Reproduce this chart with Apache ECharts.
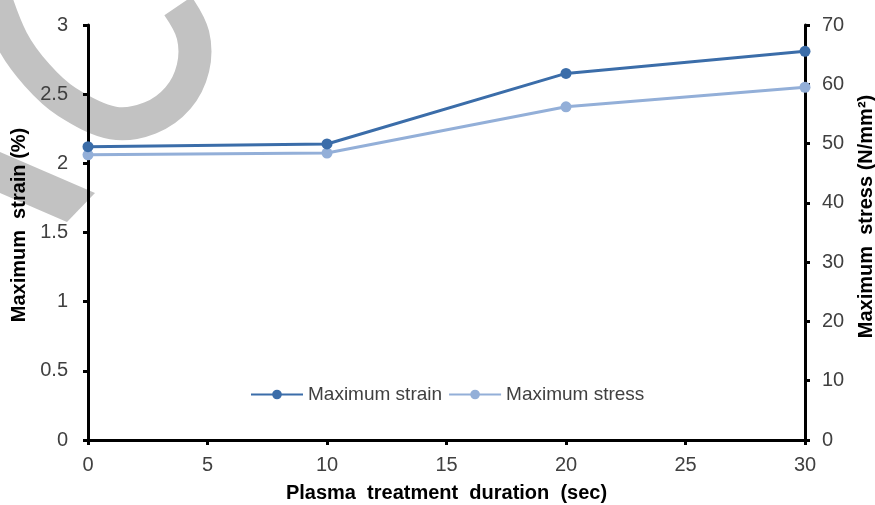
<!DOCTYPE html>
<html>
<head>
<meta charset="utf-8">
<script src="https://cdn.jsdelivr.net/npm/echarts@6/dist/echarts.min.js"></script>
<style>
html,body{margin:0;padding:0;background:#fff;overflow:hidden;}
#c{width:875px;height:505px;}
</style>
</head>
<body>
<div id="c"></div>
<script>
const durations = [0, 10, 20, 30];
const strainValues = [2.12, 2.14, 2.65, 2.81];
const stressValues = [48.1, 48.4, 56.2, 59.5];
const seriesNames = ['Maximum strain', 'Maximum stress'];
const xTicks = [0, 5, 10, 15, 20, 25, 30];
const leftTicks = [0, 0.5, 1, 1.5, 2, 2.5, 3];
const rightTicks = [0, 10, 20, 30, 40, 50, 60, 70];

const chart = echarts.init(document.getElementById('c'));
const font = 'Liberation Sans, Arial, sans-serif';
const axisLine = {show: true, lineStyle: {color: '#000', width: 3}};
const labelStyle = {color: '#404040', fontSize: 20, fontFamily: font};
const nameStyle = {color: '#000', fontSize: 20, fontWeight: 'bold', fontFamily: font};

chart.setOption({
  animation: false,
  graphic: [
    {type: 'polyline', z: -100, silent: true,
     shape: {points: [[-8,-12],[12,40],[37,75],[67,102],[113,123],[150,118],[178,98],[193,68],[193,35],[178,6]], smooth: 0.35},
     style: {stroke: '#c2c2c2', lineWidth: 33, fill: null, lineCap: 'butt', lineJoin: 'round'}},
    {type: 'polygon', z: -100, silent: true,
     shape: {points: [[0,152],[95,193],[67,222],[0,193]]},
     style: {fill: '#c2c2c2'}}
  ],
  grid: {left: 88, right: 70, top: 25, bottom: 65, containLabel: false, outerBoundsMode: 'none'},
  legend: {
    data: seriesNames,
    top: 380, left: 245,
    itemWidth: 52, itemHeight: 12, itemGap: 6,
    textStyle: {color: '#404040', fontSize: 19, fontFamily: font}
  },
  xAxis: {
    type: 'value', min: xTicks[0], max: xTicks[xTicks.length-1], interval: xTicks[1]-xTicks[0],
    name: 'Plasma  treatment  duration  (sec)', nameLocation: 'middle', nameGap: 43,
    nameTextStyle: nameStyle,
    axisLine: axisLine,
    axisTick: {show: true, inside: false, length: 5, lineStyle: {color: '#000', width: 3}},
    axisLabel: Object.assign({}, labelStyle, {margin: 15}),
    splitLine: {show: false}
  },
  yAxis: [
    {
      type: 'value', position: 'left', min: leftTicks[0], max: leftTicks[leftTicks.length-1], interval: leftTicks[1]-leftTicks[0],
      name: 'Maximum  strain (%)', nameLocation: 'middle', nameRotate: 90, nameGap: 56,
      nameTextStyle: Object.assign({}, nameStyle, {padding: [0, 0, 0, 15]}),
      axisLine: axisLine,
      axisTick: {show: true, length: 5, lineStyle: {color: '#000', width: 3}},
      axisLabel: Object.assign({}, labelStyle, {margin: 20}),
      splitLine: {show: false}
    },
    {
      type: 'value', position: 'right', min: rightTicks[0], max: rightTicks[rightTicks.length-1], interval: rightTicks[1]-rightTicks[0],
      name: 'Maximum  stress (N/mm²)', nameLocation: 'middle', nameRotate: 90, nameGap: 51,
      nameTextStyle: Object.assign({}, nameStyle, {padding: [0, 0, 0, 32]}),
      axisLine: axisLine,
      axisTick: {show: true, length: 5, lineStyle: {color: '#000', width: 3}},
      axisLabel: Object.assign({}, labelStyle, {margin: 17}),
      splitLine: {show: false}
    }
  ],
  series: [
    {
      name: seriesNames[0], type: 'line', yAxisIndex: 0,
      data: durations.map((d, i) => [d, strainValues[i]]),
      symbol: 'circle', symbolSize: 11,
      lineStyle: {color: '#3b6da9', width: 3},
      itemStyle: {color: '#3b6da9'}, z: 3
    },
    {
      name: seriesNames[1], type: 'line', yAxisIndex: 1,
      data: durations.map((d, i) => [d, stressValues[i]]),
      symbol: 'circle', symbolSize: 11,
      lineStyle: {color: '#93afd8', width: 3},
      itemStyle: {color: '#93afd8'}, z: 2
    }
  ]
});
</script>
</body>
</html>
